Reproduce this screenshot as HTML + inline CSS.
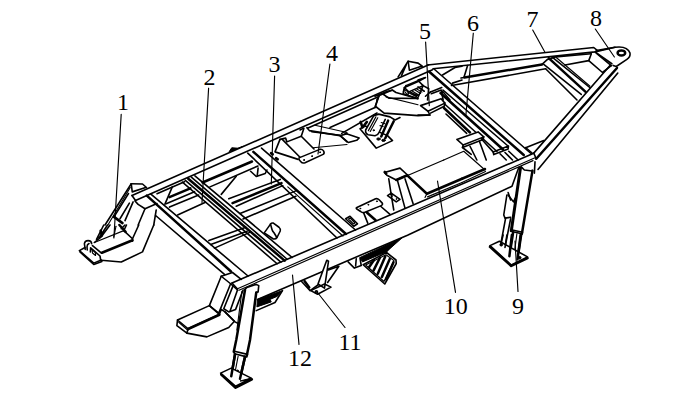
<!DOCTYPE html>
<html><head><meta charset="utf-8">
<style>
html,body{margin:0;padding:0;background:#fff;}
svg{display:block;}
.l{fill:none;stroke:#000;stroke-width:1.6;stroke-linecap:round;stroke-linejoin:round;}
.t{fill:none;stroke:#000;stroke-width:1.15;stroke-linecap:round;stroke-linejoin:round;}
.w{fill:#fff;stroke:#000;stroke-width:1.6;stroke-linejoin:round;}
.k{fill:none;stroke:#000;stroke-width:2.5;stroke-linecap:round;stroke-linejoin:round;}
.b{fill:#000;stroke:#000;stroke-width:1;stroke-linejoin:round;}
.z path,.z ellipse,.z polygon,.z polyline,.z circle{vector-effect:non-scaling-stroke;}
.n{font-family:"Liberation Serif",serif;font-size:24px;fill:#000;}
</style></head><body>
<svg width="696" height="402" viewBox="0 0 696 402">
<rect width="696" height="402" fill="#fff"/>
<path class="l" d="M132,195.5 L428.75,64.7816"/>
<path class="l" d="M135.5,200.558 L432.5,69.7297"/>
<path class="l" d="M132,195.5 L135.5,200.558"/>
<path class="k" d="M146.8,195.6 L231,271.5"/>
<path class="l" d="M150.6,193.9 L248,276"/>
<path class="l" d="M153.75,225 L156.2,210"/>
<path class="l" d="M155.6,215.5 L224.5,274.4"/>
<path class="l" d="M232,283 L532,154"/>
<path class="t" d="M237.5,288.7 L535.6,157.5"/>
<path class="t" d="M239,290.3 L533,160.6"/>
<path class="l" d="M232,283 L237.5,289"/>
<g class="l z" transform="translate(70 175) scale(0.125)">
<path d="M490,70 L580,72 L612,100"/>
<path d="M490,70 L498,135 L605,100"/>
<path d="M490,70 L280,400"/>
<path d="M482,100 L303,400" class="t"/>
<path d="M468,148 L352,335"/><path d="M352,335 L420,385" class="k"/>
<path d="M505,215 L440,365"/>
<path d="M475,225 L400,350"/>
<path d="M520,208 L545,235 L600,270 L696,228"/>
<path d="M600,270 L545,400"/>
</g>
<g class="l z" transform="translate(70 225) scale(0.125)">
<path d="M120,180 L75,205 L190,305 L250,280"/>
<path d="M80,216 L190,316 L255,292"/>
<path d="M122,195 L115,150 Q118,125 145,125 Q172,125 173,150"/>
<path d="M152,148 Q136,155 136,175 L138,200"/>
<path d="M195,140 L430,45" class="t"/><path d="M430,45 L500,110"/>
<path d="M255,222 L500,122" class="k"/>
<path d="M180,165 L252,225 M165,182 L240,248 L246,283 M165,182 L163,215"/>
<path d="M177,203 Q176,197 183,202 L200,218 Q205,223 205,230 L204,244 L180,224 Z" class="t"/>
<path d="M250,282 L410,296 L580,215 L670,0"/>
<path d="M500,110 L550,0 M500,110 L500,130 M430,45 L452,0"/>
<path d="M270,0 L212,115 M300,0 L232,103 M320,0 L250,95 M195,140 L250,95"/>
<path d="M245,45 L255,85" class="k"/>
<path d="M368,10 L350,95" class="t"/>
<path d="M395,0 L445,55" class="k"/>
<path d="M410,30 L440,0"/>
</g>
<path class="l" d="M157,193.75 L184.5,181.67"/>
<path class="l" d="M172.42,186.67 L164.92,204.17"/>
<path class="k" d="M169.5,197.08 L190.33,188.33"/>
<path class="l" d="M166.17,203.75 L194.5,191.67"/>
<path class="l" d="M169.5,207.08 L198.67,195"/>
<path class="l" d="M177.6,215 L205.5,202.3"/>
<path class="l" d="M182.42,182.08 L277.12,263.75"/>
<path class="l" d="M185.33,180.42 L280.88,262.12"/>
<path class="k" d="M188.25,178.75 L284.62,260.62"/>
<path class="l" d="M191.33,177.08 L287.12,259.25"/>
<path class="l" d="M194.92,175.83 L292.12,257.5"/>
<path class="l" d="M208.88,240.62 L245.88,227.25"/>
<path class="l" d="M210.75,244.38 L247.12,231.25"/>
<path class="l" d="M214.5,248.12 L250.88,231.88"/>
<g class="l z" transform="translate(244 225) scale(0.125)">
<path d="M162,63 L212,-7 Q220,-18 235,-15 L280,18 Q294,30 290,48 L265,98 Q255,115 235,112 Z" fill="#fff"/>
<path d="M212,-7 L224,36 Q228,50 240,62 L263,100"/>
</g>
<path class="l" d="M228.75,198.75 L280.25,179.38"/>
<path class="k" d="M232.5,203.12 L281.5,183.12"/>
<path class="l" d="M236.25,206.25 L282.75,185.62"/>
<path class="l" d="M240,213.5 L296.5,190.62"/>
<path class="l" d="M243,219 L295.88,196.25"/>
<path class="k" d="M202.5,182.5 L252,161.5"/>
<path class="l" d="M210,186.88 L258,166"/>
<path class="l" d="M236.25,176.25 L221.25,194.38"/>
<path class="l" d="M250.6,171.25 L256.25,176.5 L265.25,173.5 L266.9,170"/>
<path class="l" d="M258.1,168.1 L257.25,175.6"/>
<path class="l" d="M261.5,148.12 L355.5,230"/>
<path class="k" d="M253.38,151.88 L346,234"/>
<path class="l" d="M247.75,153.12 L337,238"/>
<path class="t" d="M287.75,186.88 L343,236"/>
<g class="l z" transform="translate(260 115) scale(0.125)">
<path d="M160,195 L120,295 L305,355"/>
<path d="M160,195 L205,185 L215,215 L330,170 L350,110"/>
<path d="M180,197 L320,338"/>
<path d="M330,170 L432,272"/>
<path d="M320,120 L350,105"/>
<path d="M312,343 L478,275 Q495,270 507,285 Q520,305 505,315 L360,382 Q340,390 325,372 Q308,355 312,343 Z"/>
<circle cx="352" cy="360" r="4" class="b"/><circle cx="416" cy="329" r="4" class="b"/><circle cx="480" cy="298" r="4" class="b"/>
<path d="M375,100 L395,125 L640,165 L696,150"/>
<path d="M440,82 L696,140" class="t"/>
<path d="M425,262 L696,236" class="t"/>
<path d="M640,165 L696,215"/>
<path d="M88,305 l14,10 M128,345 l14,10" class="k"/>
</g>
<g class="l z" transform="translate(157 125) scale(0.125)"><path d="M578,212 L598,182 L652,186 L690,170 L600,205 Z" class="b"/></g>
<path class="l" d="M427.5,65 L593.75,47.5 L597.5,50.6"/>
<path class="l" d="M433,68.75 L595,51.9 L615,47.2"/>
<path class="k" d="M464.5,77.5 L542,64.4"/>
<path class="l" d="M451.5,85.5 L545.6,68.75"/>
<path class="l" d="M467.6,65.5 L463.9,77.5 L461,78"/>
<path class="l" d="M542,64.4 L547.5,59.4 L555.62,56.88 L591.25,53.75"/>
<path class="k" d="M548.75,58.12 L585.62,91.88"/>
<path class="l" d="M551.88,56.88 L589.75,87.5"/>
<path class="l" d="M543.75,64.38 L581.25,94.38"/>
<path class="l" d="M545.62,68.75 L577,100"/>
<path class="t" d="M556.25,57.5 L590,86.25"/>
<path class="l" d="M565,65 L588.75,60.62 L591.25,54"/>
<path class="l" d="M588.75,60.62 L602.5,72.5 L611.25,65.62"/>
<path class="l" d="M596.25,53.12 L611.25,65.62"/>
<path class="l" d="M595,51.88 L611.88,63.75"/>
<path class="l" d="M596.25,50.62 L615,47.25 Q627.5,45.62 630,53.12 Q630.62,56.88 626.88,59.38 L616.25,66.5 L613.12,65.38"/>
<ellipse cx="621.4" cy="52.9" rx="3.8" ry="2.5" fill="#fff" stroke="#000" stroke-width="2.5"/>
<path class="l" d="M610,65.5 L533.75,153.1"/>
<path class="k" d="M617,68 L536.25,158.75"/>
<path class="l" d="M617.8,73 L538,169.4"/>
<path class="l" d="M533.75,153.1 L536.25,158.75"/>
<path class="l" d="M525.6,147.5 L533,153.75"/>
<path class="l" d="M526.25,147.5 L543.75,140.6"/>
<g class="l z" transform="translate(375 50) scale(0.125)">
<path d="M265,90 L345,105 L378,130 M265,90 L275,162 L372,130"/>
<path d="M265,90 L185,215 M250,118 L212,205" />
<path d="M235,300 L350,250 L385,285 L270,335 Z"/>
<path d="M235,300 L225,350 L340,388 L385,285 M270,335 L262,362"/>
<path d="M240,320 l25,15 M240,335 l20,25 M262,338 l70,35 M280,335 l60,30 M300,330 l50,30 M320,320 l45,28 M335,312 l40,25" class="t"/>
<path d="M350,250 L400,222 M385,285 L430,310 L420,400"/>
<path d="M0,370 L100,330 L140,322 M60,350 L110,385 L340,388 M15,400 L30,370"/>
<path d="M450,350 L530,320 L545,400 M540,330 L600,400"/>
<path d="M540,200 L640,140 L696,130 M620,265 L696,240"/>
</g>
<path class="l" d="M433.75,68.75 L531.25,153.75"/>
<path class="k" d="M429,71.5 L523.75,155"/>
<path class="l" d="M443,90 L508,146"/>
<path class="k" d="M440.5,93 L503,149.5"/>
<path class="l" d="M443.5,103 L497,151.5"/>
<path class="k" d="M444,108 L470,132.5"/>
<path class="l" d="M481.25,138.75 L493.1,151.9"/>
<path class="l" d="M446,114 L466.7,133.3"/>
<path class="l" d="M493.12,151.88 L508.5,146 L508.12,149 L493.75,154.62 L493.12,151.88"/>
<path class="l" d="M500,153.75 L506.25,160"/>
<path class="l" d="M505,152.5 L512.5,160"/>
<path class="l" d="M508.75,151.25 L518.12,160"/>
<polygon class="w" points="456.88,139.38 478.12,131.88 483.75,136.88 463.12,145"/>
<path class="l" d="M463.12,145 L462.5,147.5 L483.12,139.62 L483.75,136.88"/>
<path class="l" d="M462.5,147.5 L471.25,154.38"/>
<path class="l" d="M470,146.25 L476.88,160"/>
<path class="l" d="M479.38,141.25 L481.25,146.25 L486.25,160"/>
<polygon class="w" points="420.5,105.62 441.12,98.75 444.88,103.12 428,111.25"/>
<path class="l" d="M428,111.25 L429.88,115 L418,115"/>
<path class="l" d="M444.88,103.12 L444.25,106.25 L430.5,113.12"/>
<path class="l" d="M430.5,91.88 L441.75,87.5"/>
<path class="l" d="M425.5,96.25 L430.5,91.88"/>
<path class="l" d="M418,80 L425.5,77.5"/>
<path class="l" d="M418,86.88 L424.25,91.25"/>
<g class="l z" transform="translate(375 160) scale(0.125)">
<path d="M270,120 L550,0" class="t"/>
<path d="M260,125 L415,270 L696,150" class="k"/>
<path d="M420,295 L696,180 M400,300 L415,270" class="t"/>
<path d="M75,100 L200,65 L260,120 L170,160 L95,122 Z"/>
<path d="M170,160 L260,122" class="k"/><path d="M78,95 l12,14" class="k"/>
<path d="M110,150 L130,280 L150,400 M180,165 L240,385 M240,150 L305,350"/>
<path d="M100,285 L130,265 L200,315 L170,335 Z"/>
<circle cx="135" cy="288" r="3" class="b"/><circle cx="170" cy="312" r="3" class="b"/>
</g>
<path class="t" d="M443.75,160 L463.75,151.25 L485,170"/>
<path class="k" d="M462,178.75 L485,169"/>
<path class="t" d="M462,182.5 L485.5,171.5"/>
<path class="l" d="M257.5,299.4 L340,263.9 L407.5,235.2 L512,186.3 L518.75,167.5"/>
<path d="M520.62,166.88 L511.25,231.25" fill="none" stroke="#000" stroke-width="3"/>
<path class="k" d="M532.5,170.62 L521.88,233.75"/>
<path class="l" d="M521.25,166.88 L524.38,170 L532.25,171"/>
<path class="l" d="M535,161.88 L534.38,173.12"/>
<path class="l" d="M508.12,192.5 L510.62,200"/>
<path class="l" d="M506.88,195 L503.75,215 L505,218.12 L510.62,217.25"/>
<path class="l" d="M508.12,195 L513.5,201.88 L515.25,198.12"/>
<path class="l" d="M505.62,218.12 L500.62,245"/>
<path class="l" d="M510.62,218.75 L505,247.5"/>
<path class="l" d="M510.62,231.25 L521.88,233.75"/>
<path class="l" d="M511.25,229.75 L522.5,232.25"/>
<path class="k" d="M513.12,232.5 L509.38,256.25"/>
<path class="k" d="M521.25,234.38 L517.5,259.38"/>
<path class="t" d="M516.88,233.75 L513.75,257.5"/>
<polygon class="w" points="490,245.62 499.38,241.25 527.5,256.88 511.25,265"/>
<path class="k" d="M490,246.88 L511.25,266 L527.5,258.12"/>
<path class="k" d="M511.88,235 L509.38,256.25"/>
<path class="k" d="M520.62,235 L517.5,259.38"/>
<path class="l" d="M503.12,235 L500.62,245"/>
<path class="l" d="M506.88,235 L505,247.5"/>
<circle class="b" cx="501.25" cy="244.75" r="1.3"/>
<circle class="b" cx="519.75" cy="257.75" r="1.3"/>
<path class="l" d="M221.25,276.25 L232.5,272.5 L241.25,279.38"/>
<path class="l" d="M221.25,276.25 L230.62,283.75 L237.5,290"/>
<path class="l" d="M221.25,276.25 L209.38,305.62 L218.75,313.12 L230.62,283.75"/>
<path class="l" d="M209.38,305.62 L177.5,320 L188.12,328.75 L219.38,314.38 L209.38,305.62"/>
<path class="k" d="M188.12,329 L219.38,314.75"/>
<path class="l" d="M177.5,320 L176.88,325.62 L186.88,333.12 L188.12,328.75"/>
<path class="t" d="M178.75,322.25 L187.88,330.25"/>
<path class="l" d="M186.88,333.12 L206.88,336.88 L228.75,327.5 L234.38,321.25 L225,311.88"/>
<path class="l" d="M219.38,314.38 L221.25,309.38 L225,311.88 L235,321.88 L238.75,323.75"/>
<path class="l" d="M233.12,285.62 L223.75,308.75 L228.75,311.88 L235.62,309.38 L243.12,290"/>
<path class="l" d="M237.5,290 L230,311.25"/>
<path class="k" d="M245,290 L236.25,340 L233.75,351.88"/>
<path class="k" d="M256.25,292.5 L250,340 L246.88,355"/>
<path class="t" d="M241.88,291.25 L236.88,330"/>
<path class="l" d="M245,289.38 L246.88,287.5 L256.25,284.38 L258.75,285.62 L258.12,291.88 L256.25,292.5"/>
<path class="l" d="M234.38,351.25 L247.5,354.38 L246.88,356.88 L234.38,353.75 L234.38,351.25"/>
<path class="k" d="M235,354.38 L231.25,376.25"/>
<path class="k" d="M245,356.88 L240,378.75"/>
<path class="t" d="M238.12,356.25 L234,377.5"/>
<circle class="b" cx="237.5" cy="371.25" r="1.2"/>
<polygon class="w" points="220.62,373.12 231.25,368.12 251.25,378.12 235.62,386.25"/>
<path class="k" d="M221.25,374.62 L235.62,387.75 L251.88,379.38"/>
<path class="k" d="M235,354.38 L231.25,376.25"/>
<path class="k" d="M245,356.88 L240,378.75"/>
<polygon class="b" points="240,381 251.25,378.12 250,380.25"/>
<polygon class="b" points="257.5,299.38 282.5,290.62 277.5,296.25 270,299.38 271.25,301.88 256.88,306.88"/>
<path class="l" d="M282.5,290.62 L275,302.5 L256.25,310.62"/>
<polygon class="w" points="326.75,260.25 328.5,261.25 324.5,288.12 318,284"/>
<path class="l" d="M301.38,281.25 L310.12,290.62 L318.25,284.75"/>
<path class="k" d="M304.5,281 L309.25,287.5"/>
<path class="l" d="M328.25,270 L338.88,266.25 L327.62,282.5"/>
<path class="l" d="M310.75,290.62 L324.5,284 L331,287.12 L317.62,294.25 Z"/>
<circle class="l" cx="316.38" cy="292" r="1.1"/>
<polygon class="b" points="360,257.5 402.5,237.5 386.25,251.88 362.5,261.88"/>
<path class="l" d="M348.12,261.88 L354.38,268.12 L361.25,265.62 L360,258.12"/>
<path class="l" d="M356.25,258.75 L355.62,266"/>
<path class="l" d="M363.12,264.75 L386.5,252.5 L396,260 L396.25,263.5 L384.75,284 Z"/>
<path class="t" d="M365.62,265 L386,254.75 L394,260.62 L384,281.5 L365.62,265"/>
<path class="k" d="M374,260 L369,267.25"/>
<path class="k" d="M380,257.5 L373.5,270.62"/>
<path class="k" d="M385.25,256.5 L377.75,273.75"/>
<path class="k" d="M389.75,259 L381.88,276.88"/>
<path class="k" d="M393.5,262.25 L386,279.38"/>
<path class="t" d="M395,241.25 L386.88,251.5"/>
<path class="l" d="M307.5,128.33 L378.33,96.67 L375,107.5"/>
<path class="l" d="M330,127.5 L375,107.5"/>
<path class="l" d="M341.67,133.33 L377,113"/>
<path class="l" d="M311.67,131.67 L340,135.33 L348.33,142.5 L356.67,140.33 L359.17,138 L345,133.33"/>
<path class="l" d="M379.12,95.62 L375.38,106.25 L384.12,113.12 L418,115.62 L430,115"/>
<path class="l" d="M379.12,95.62 L383.5,93.75 L392.25,90 L396,92.5 L418,98.75"/>
<path class="t" d="M386,96.88 L418,104.75"/>
<path class="l" d="M406,85.62 L418,80.62"/>
<path class="l" d="M403.5,91.25 L406,85.62"/>
<g class="l z" transform="translate(320 110) scale(0.125)">
<polygon class="w" points="320,150 362,128 540,205 580,245 450,305"/>
<path d="M430,45 L365,160 Q362,190 385,198 L440,206 Q465,200 472,180 L522,75" fill="#fff"/>
<path d="M447,55 L387,165 M462,62 L402,172" class="t"/>
<circle cx="430" cy="162" r="5" class="b"/>
<path d="M545,85 L490,212 M590,90 L522,226" class="k"/>
<path d="M430,45 L470,33 L560,55 L600,80 L640,60"/>
<ellipse cx="468" cy="232" rx="14" ry="9" class="b"/><ellipse cx="508" cy="243" rx="14" ry="9" class="b"/>
<path d="M325,95 L340,140 L375,95" class="k"/>
<path d="M490,100 L520,110 M480,125 L505,132" class="t"/>
</g>
<g class="l z" transform="translate(335 185) scale(0.125)">
<path d="M175,180 L325,110 Q340,105 355,120 L378,145 Q385,158 370,165 L235,220 Q220,225 205,212 L175,192 Q165,185 175,180 Z"/>
<circle cx="202" cy="188" r="3.5" class="b"/><circle cx="266" cy="158" r="3.5" class="b"/><circle cx="335" cy="130" r="3.5" class="b"/>
<path d="M230,225 L262,305 M365,170 L440,235"/><path d="M255,220 L325,282" class="k"/>
<path d="M85,270 L120,250 L180,310 L150,330 Z"/><path d="M108,272 L122,264 L160,304 L147,312 Z" class="t"/>
</g>
<text class="n" x="117" y="109.7">1</text>
<text class="n" x="203.5" y="85">2</text>
<text class="n" x="268.5" y="72.4">3</text>
<text class="n" x="326" y="61.3">4</text>
<text class="n" x="419" y="38.6">5</text>
<text class="n" x="467" y="31">6</text>
<text class="n" x="526.5" y="27">7</text>
<text class="n" x="590" y="26">8</text>
<text class="n" x="512" y="313.5">9</text>
<text class="n" x="443.8" y="314">10</text>
<text class="n" x="338.5" y="350">11</text>
<text class="n" x="288" y="366">12</text>
<g class="t" id="leaders">
<path d="M121.2,114.4 L113.9,238"/>
<path d="M208.6,88.2 L202,202.5"/>
<path d="M274.6,76 L271.3,184"/>
<path d="M329.9,64 L318,154"/>
<path d="M425.6,42 L429.3,105.6"/>
<path d="M473.3,33.2 L465.9,115"/>
<path d="M532.7,30 L544.8,52"/>
<path d="M595.3,29 L614.4,57"/>
<path d="M515,241 L518,291.5"/>
<path d="M437.5,181 L455.5,292.4"/>
<path d="M317.5,292.5 L345,327.5"/>
<path d="M292.5,275 L299,344.4"/>
</g>
</svg>
</body></html>
